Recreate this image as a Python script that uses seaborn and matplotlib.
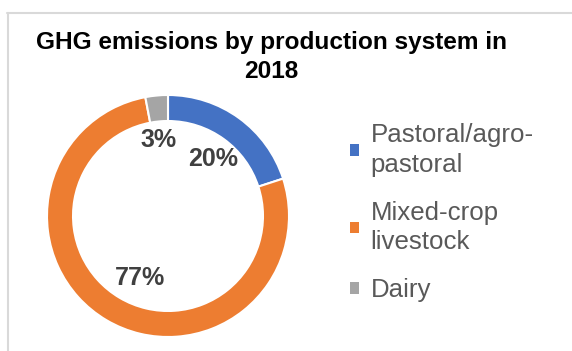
import matplotlib
matplotlib.use("Agg")
import matplotlib.pyplot as plt
import seaborn as sns
import numpy as np
from matplotlib.lines import Line2D
from matplotlib.patches import Patch

sns.set_theme(style="white")
plt.rcParams["font.family"] = ["Liberation Sans", "DejaVu Sans"]

# Share of GHG emissions by production system, 2018
systems = ["Pastoral/agro-\npastoral", "Mixed-crop\nlivestock", "Dairy"]
shares = [20, 77, 3]
colors = ["#4472C4", "#ED7D31", "#A5A5A5"]
# radial position (fraction of radius) and angular nudge (deg) of each % label
label_radius = [0.60, 0.56, 0.63]
label_nudge = [-2, 6.0, 1.5]

W, H = 572, 351
fig = plt.figure(figsize=(W / 100, H / 100), dpi=100)
fig.patch.set_facecolor("white")

# Chart-area frame (left and top edges)
frame_kw = dict(color="#D9D9D9", linewidth=1.5, transform=fig.transFigure)
fig.add_artist(Line2D([7.5 / W, 7.5 / W], [0, 1 - 13 / H], **frame_kw))
fig.add_artist(Line2D([7 / W, 1], [1 - 13 / H, 1 - 13 / H], **frame_kw))

fig.text(271 / W, 1 - 57 / H, "GHG emissions by production system in\n2018",
         ha="center", va="center", multialignment="center",
         fontsize=17.6, fontweight="bold", color="black", linespacing=1.3)

# Donut
cx, cy, r = 168, 216, 121
lim = 1.05
size = 2 * r * lim
ax = fig.add_axes([(cx - size / 2) / W, (H - cy - size / 2) / H, size / W, size / H])
wedges, _ = ax.pie(shares, colors=colors, startangle=90, counterclock=False,
                   radius=1, wedgeprops=dict(width=0.215, edgecolor="white", linewidth=1.5))
ax.set_xlim(-lim, lim)
ax.set_ylim(-lim, lim)
ax.set_aspect("equal")
ax.axis("off")

for w, val, rr, dn in zip(wedges, shares, label_radius, label_nudge):
    ang = np.deg2rad((w.theta1 + w.theta2) / 2 + dn)
    ax.text(rr * np.cos(ang), rr * np.sin(ang), f"{val}%", ha="center", va="center",
            fontsize=18, fontweight="bold", color="#404040")

handles = [Patch(facecolor=c, edgecolor="none") for c in colors]
leg = fig.legend(handles, systems, loc="upper left", bbox_to_anchor=(340 / W, 1 - 113 / H),
                 frameon=False, fontsize=18.6, labelcolor="#595959",
                 handlelength=0.33, handleheight=0.33, handletextpad=0.45, labelspacing=0.93,
                 borderaxespad=0)
for t in leg.get_texts():
    t.set_linespacing(1.28)

fig.savefig("out.png", dpi=100)
